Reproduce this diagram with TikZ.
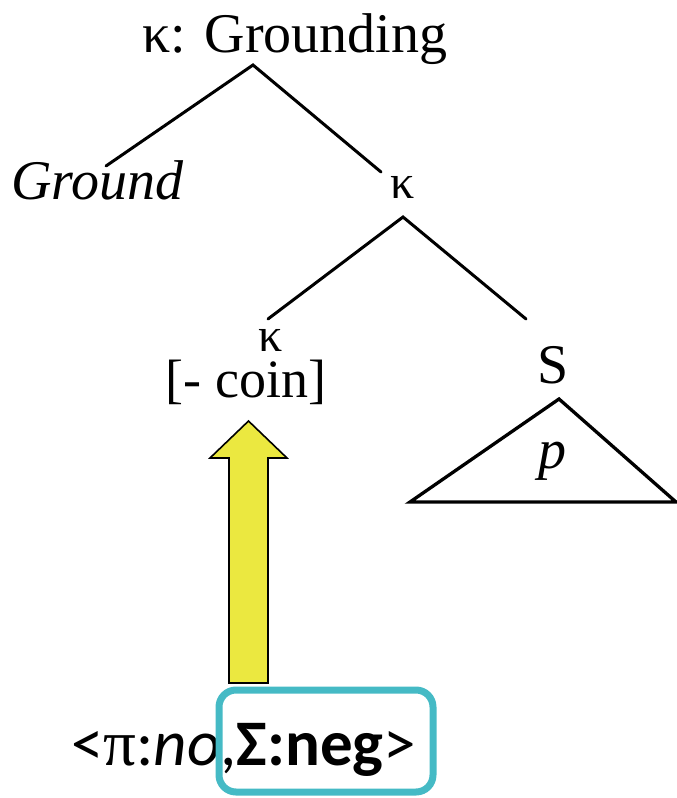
\documentclass[tikz,border=0pt]{standalone}
\usepackage{fontspec}
\setmainfont{Liberation Serif}
\newfontfamily\calfont{Carlito}
\usetikzlibrary{calc}
\definecolor{arrowyellow}{RGB}{235,232,64}
\definecolor{boxteal}{RGB}{69,186,197}
\tikzset{
  lbl/.style={anchor=base, inner sep=0pt, outer sep=0pt, font=\fontsize{56}{60}\selectfont},
  kappa/.style={lbl, font=\fontsize{48}{52}\selectfont},
  branch/.style={line width=3pt, line cap=round},
}
\begin{document}
\begin{tikzpicture}[x=1pt, y=-1pt]
\useasboundingbox (0,0) rectangle (677,798);
% tree labels
\node[lbl] (root) at (295,52) {κ: Grounding};
\node[lbl] (ground) at (97.5,199) {\textit{Ground}};
\node[kappa] (k1) at (403,198) {κ};
\node[kappa] (k2) at (271,351) {κ};
\node[lbl, font=\fontsize{54}{58}\selectfont] (coin) at (246,397) {[- coin]};
\node[lbl] (S) at (553,383) {S};
\node[lbl] (p) at (552,468) {\textit{p}};
% branches
\coordinate (rootapex) at ($(root.base)+(-42,13)$);
\coordinate (k1apex) at ($(k1.base)+(0,19)$);
\draw[branch] ($(ground.base)+(8.5,-33)$) -- (rootapex) -- ($(k1.base)+(-22,-26)$);
\draw[branch] ($(k2.base)+(-3,-32)$) -- (k1apex) -- ($(S.base)+(-27,-64)$);
% triangle under S
\draw[line width=3.3pt, line join=miter] ($(S.base)+(6,16)$) -- ($(p.base)+(-142,34)$) -- ($(p.base)+(124,34)$) -- cycle;
% bottom tuple
\node[anchor=base west, inner sep=0pt, font=\calfont\fontsize{65}{69}\selectfont] (tuple) at (71,765)
  {<{\rmfamily π}:\textit{no},\textbf{Σ:neg}>};
% teal rounded box
\draw[boxteal, line width=7pt, rounded corners=17pt] (219,690) rectangle (433,792);
% yellow block arrow
\draw[fill=arrowyellow, line width=1.6pt, line join=miter]
  (248.5,421) -- (287,458) -- (268,458) -- (268,683) -- (229,683) -- (229,458) -- (210,458) -- cycle;
\end{tikzpicture}
\end{document}
